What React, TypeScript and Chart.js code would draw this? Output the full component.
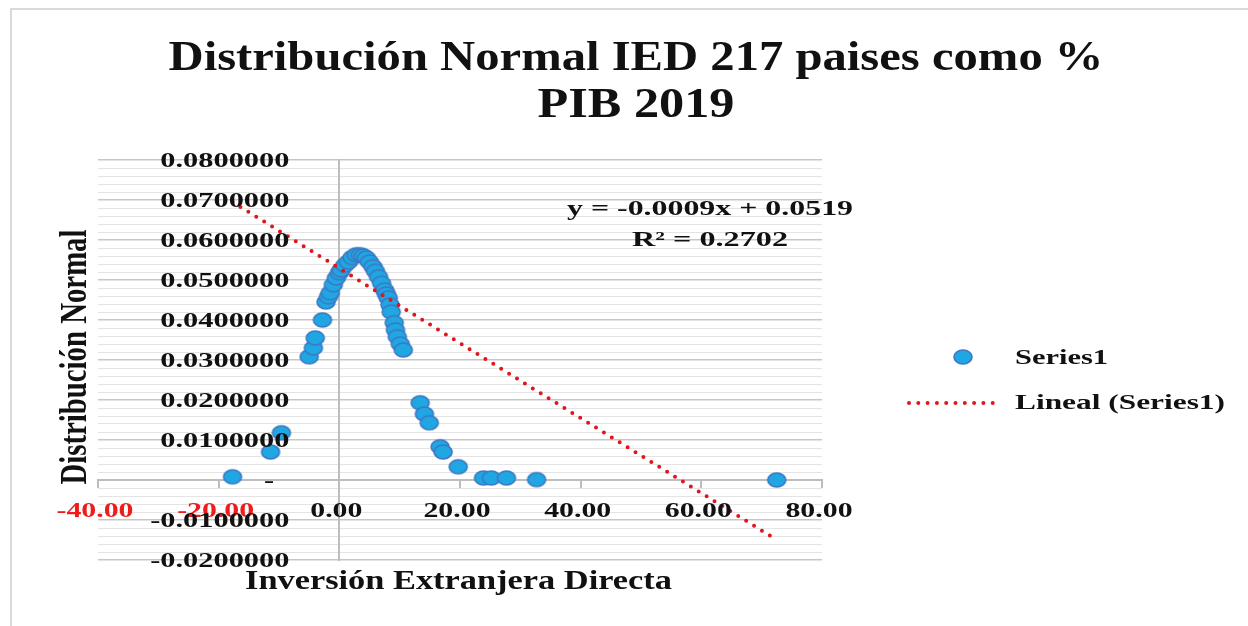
import React, { useEffect, useRef } from "react";
import { Chart, registerables } from "chart.js";

Chart.register(...registerables);

// ---------------- Data ----------------
const iedPctPib = [
  -17.7, -11.4, -9.6, -5.0, -4.3, -4.0, -2.8, -2.2, -1.8, -1.5, -1.0, -0.5, 0.0, 0.3, 0.9, 1.5,
  2.1, 2.8, 3.5, 4.0, 4.5, 5.0, 5.6, 6.0, 6.5, 7.0, 7.5, 7.8, 8.1, 8.4, 8.6, 9.1, 9.3, 9.6, 10.1,
  10.6, 13.4, 14.1, 14.9, 16.7, 17.2, 19.7, 23.9, 25.2, 27.7, 32.7, 72.5,
];
const normalDensity = [
  0.0008, 0.007, 0.0118, 0.0308, 0.033, 0.0355, 0.04, 0.0445, 0.0458, 0.0468, 0.0488, 0.0505,
  0.0518, 0.0525, 0.0537, 0.0545, 0.0556, 0.0563, 0.0563, 0.056, 0.0555, 0.0545, 0.0533, 0.0522,
  0.0508, 0.0492, 0.0475, 0.0465, 0.0455, 0.0438, 0.042, 0.0393, 0.0375, 0.0358, 0.034, 0.0325,
  0.0193, 0.0165, 0.0143, 0.0083, 0.007, 0.0033, 0.0005, 0.0005, 0.0005, 0.0001, 0.0,
];
const trendX = [-17.7, 71.8];
const trendY = [0.0695, -0.0143];

const xTickLabels = ["-40.00", "-20.00", "0.00", "20.00", "40.00", "60.00", "80.00"];
const yTickLabels = [
  "-0.0200000", "-0.0100000", "-  ", "0.0100000", "0.0200000", "0.0300000", "0.0400000",
  "0.0500000", "0.0600000", "0.0700000", "0.0800000",
];
const titleLines = ["Distribución Normal IED 217 paises como %", "PIB 2019"];
const xTitle = "Inversión Extranjera Directa";
const yTitle = "Distribución Normal";
const equationLines = ["y = -0.0009x + 0.0519", "R² = 0.2702"];
const legendLabels = ["Series1", "Lineal (Series1)"];

// ---------------- Styling ----------------
const SERIF = "'Liberation Serif', 'Times New Roman', serif";
const DOT_FILL = "#1fa6e3";
const DOT_STROKE = "#3d79c2";
const TREND_RED = "#e3141c";
const NEG_RED = "#ee1c1c";

function makeDot(): HTMLCanvasElement {
  const rx = 9;
  const ry = 7;
  const lw = 1.6;
  const c = document.createElement("canvas");
  c.width = Math.ceil(2 * rx + 2 * lw);
  c.height = Math.ceil(2 * ry + 2 * lw);
  const g = c.getContext("2d")!;
  g.beginPath();
  g.ellipse(c.width / 2, c.height / 2, rx, ry, 0, 0, Math.PI * 2);
  g.fillStyle = DOT_FILL;
  g.fill();
  g.lineWidth = lw;
  g.strokeStyle = DOT_STROKE;
  g.stroke();
  return c;
}

function drawText(
  ctx: CanvasRenderingContext2D,
  text: string,
  x: number,
  y: number,
  size: number,
  sx: number,
  align: CanvasTextAlign,
  color: string,
  baseline: CanvasTextBaseline = "middle"
) {
  ctx.save();
  ctx.font = `bold ${size}px ${SERIF}`;
  ctx.translate(x, y);
  ctx.scale(sx, 1);
  ctx.textAlign = align;
  ctx.textBaseline = baseline;
  ctx.fillStyle = color;
  ctx.fillText(text, 0, 0);
  ctx.restore();
}

function fitScale(ctx: CanvasRenderingContext2D, text: string, size: number, width: number) {
  ctx.save();
  ctx.font = `bold ${size}px ${SERIF}`;
  const w = ctx.measureText(text).width;
  ctx.restore();
  return width / w;
}

export default function App() {
  const ref = useRef<HTMLCanvasElement>(null);

  useEffect(() => {
    const canvas = ref.current!;
    const dot = makeDot();

    const decor = {
      id: "decor",
      beforeDraw(chart: any) {
        const ctx = chart.ctx as CanvasRenderingContext2D;
        ctx.save();
        ctx.fillStyle = "#ffffff";
        ctx.fillRect(0, 0, chart.width, chart.height);
        ctx.strokeStyle = "#d9d9d9";
        ctx.lineWidth = 2;
        ctx.beginPath();
        ctx.moveTo(11, chart.height);
        ctx.lineTo(11, 9);
        ctx.lineTo(chart.width, 9);
        ctx.stroke();
        ctx.restore();
      },
      afterDraw(chart: any) {
        const ctx = chart.ctx as CanvasRenderingContext2D;
        const xs = chart.scales.x;
        const ys = chart.scales.y;

        // Title
        drawText(ctx, titleLines[0], 636, 70, 42, fitScale(ctx, titleLines[0], 42, 935), "center", "#111", "alphabetic");
        drawText(ctx, titleLines[1], 636, 117, 42, fitScale(ctx, titleLines[1], 42, 197), "center", "#111", "alphabetic");

        // X tick labels (below the x axis which crosses at y = 0)
        const sxX = fitScale(ctx, "-40.00", 22, 77);
        xs.ticks.forEach((t: any, i: number) => {
          const label = xTickLabels[i];
          if (label === undefined) return;
          const px = xs.getPixelForValue(t.value);
          drawText(ctx, label, px - 3, 511, 22, sxX, "center", t.value < 0 ? NEG_RED : "#111");
        });

        // Y tick labels (left of the vertical axis which crosses at x = 0)
        const sxY = fitScale(ctx, "0.0800000", 22, 129);
        const axisX = xs.getPixelForValue(0);
        ys.ticks.forEach((t: any, i: number) => {
          const label = yTickLabels[i];
          if (label === undefined) return;
          const py = ys.getPixelForValue(t.value);
          drawText(ctx, label, axisX - 50, py + 1, 22, sxY, "right", "#111");
        });

        // Axis titles
        drawText(ctx, xTitle, 245, 589, 27, fitScale(ctx, xTitle, 27, 427), "left", "#111", "alphabetic");
        ctx.save();
        ctx.translate(76, 357);
        ctx.rotate(-Math.PI / 2);
        ctx.scale(1, 1.35);
        drawText(ctx, yTitle, 0, 0, 28, fitScale(ctx, yTitle, 28, 255), "center", "#111");
        ctx.restore();

        // Trendline equation
        drawText(ctx, equationLines[0], 710, 209, 22, fitScale(ctx, equationLines[0], 22, 286), "center", "#111");
        drawText(ctx, equationLines[1], 710, 240, 22, fitScale(ctx, equationLines[1], 22, 156), "center", "#111");

        // Legend
        ctx.drawImage(dot, 963 - dot.width / 2, 357 - dot.height / 2);
        drawText(ctx, legendLabels[0], 1015, 358, 22, fitScale(ctx, legendLabels[0], 22, 93), "left", "#111");
        ctx.save();
        ctx.strokeStyle = TREND_RED;
        ctx.lineWidth = 4;
        ctx.lineCap = "round";
        ctx.setLineDash([0, 9.3]);
        ctx.beginPath();
        ctx.moveTo(909, 403);
        ctx.lineTo(1000, 403);
        ctx.stroke();
        ctx.restore();
        drawText(ctx, legendLabels[1], 1015, 403, 22, fitScale(ctx, legendLabels[1], 22, 210), "left", "#111");
      },
    };

    const points = iedPctPib.map((x, i) => ({ x, y: normalDensity[i] }));
    const trend = trendX.map((x, i) => ({ x, y: trendY[i] }));

    const chart = new Chart(canvas, {
      type: "scatter",
      data: {
        datasets: [
          {
            label: legendLabels[1],
            data: trend,
            showLine: true,
            borderColor: TREND_RED,
            borderWidth: 4,
            borderDash: [0, 9.3],
            borderCapStyle: "round",
            pointRadius: 0,
            order: 0,
          } as any,
          {
            label: legendLabels[0],
            data: points,
            pointStyle: dot as any,
            pointRadius: 9,
            order: 1,
          } as any,
        ],
      },
      options: {
        animation: false,
        responsive: false,
        devicePixelRatio: 1,
        events: [],
        layout: { padding: { left: 98, right: 426, top: 160, bottom: 66 } },
        plugins: {
          legend: { display: false },
          title: { display: false },
          tooltip: { enabled: false },
        },
        scales: {
          x: {
            type: "linear",
            min: -40,
            max: 80,
            position: { y: 0 } as any,
            ticks: { display: false, stepSize: 20 },
            grid: {
              display: true,
              drawOnChartArea: false,
              drawTicks: true,
              tickLength: 7,
              color: "#bdbdbd",
              lineWidth: 2,
            },
            border: { display: true, color: "#bdbdbd", width: 2 },
          },
          y: {
            type: "linear",
            min: -0.02,
            max: 0.08,
            position: { x: 0 } as any,
            ticks: { display: false, stepSize: 0.01 },
            grid: { color: "#c6c6c6", lineWidth: 2, drawTicks: false },
            border: { display: true, color: "#bdbdbd", width: 2 },
            z: -1,
          },
          yMinor: {
            type: "linear",
            min: -0.02,
            max: 0.08,
            position: "left",
            ticks: { display: false, stepSize: 0.002, maxTicksLimit: 100 },
            grid: { color: "#e4e4e4", lineWidth: 1, drawTicks: false },
            border: { display: false },
            z: -2,
            afterFit: (s: any) => {
              s.width = 0;
            },
          },
        },
      } as any,
      plugins: [decor],
    });

    return () => chart.destroy();
  }, []);

  return (
    <div style={{ position: "fixed", left: 0, top: 0, width: 1248, height: 626, background: "#fff" }}>
      <canvas ref={ref} width={1248} height={626} style={{ display: "block", width: 1248, height: 626 }} />
    </div>
  );
}
